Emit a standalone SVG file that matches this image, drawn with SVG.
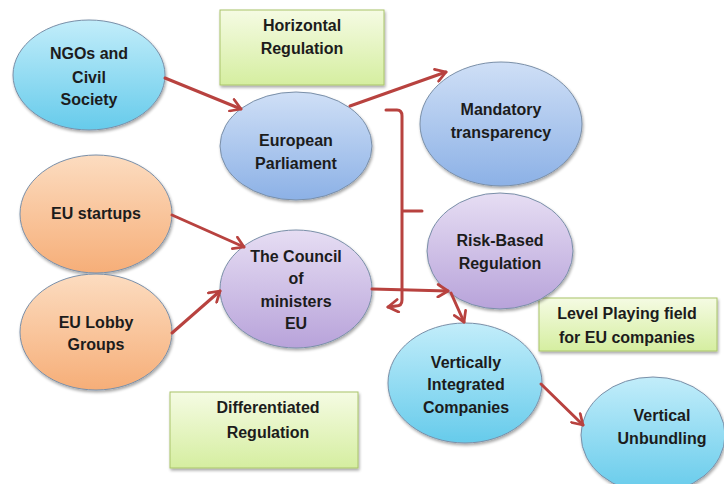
<svg xmlns="http://www.w3.org/2000/svg" width="724" height="484" viewBox="0 0 724 484">
  <defs>
    <linearGradient id="gCyan" x1="0" y1="0" x2="0" y2="1">
      <stop offset="0" stop-color="#c2edfa"/>
      <stop offset="1" stop-color="#66cbeb"/>
    </linearGradient>
    <linearGradient id="gBlue" x1="0" y1="0" x2="0" y2="1">
      <stop offset="0" stop-color="#cfdff6"/>
      <stop offset="1" stop-color="#8cb1e6"/>
    </linearGradient>
    <linearGradient id="gLav" x1="0" y1="0" x2="0" y2="1">
      <stop offset="0" stop-color="#e6ddf3"/>
      <stop offset="1" stop-color="#b8a3da"/>
    </linearGradient>
    <linearGradient id="gOrange" x1="0" y1="0" x2="0" y2="1">
      <stop offset="0" stop-color="#fcdcc0"/>
      <stop offset="1" stop-color="#f6ae78"/>
    </linearGradient>
    <linearGradient id="gGreen" x1="0" y1="0" x2="0" y2="1">
      <stop offset="0" stop-color="#f5fbe3"/>
      <stop offset="1" stop-color="#d5eea0"/>
    </linearGradient>
    <filter id="shadow" x="-10%" y="-10%" width="125%" height="130%">
      <feGaussianBlur in="SourceAlpha" stdDeviation="1.5"/>
      <feOffset dx="1" dy="2" result="b"/>
      <feComponentTransfer><feFuncA type="linear" slope="0.35"/></feComponentTransfer>
      <feMerge><feMergeNode/><feMergeNode in="SourceGraphic"/></feMerge>
    </filter>
    <marker id="arrow" viewBox="0 0 12 12" refX="10" refY="6" markerWidth="5" markerHeight="5" orient="auto" markerUnits="strokeWidth">
      <path d="M2,1 L10,6 L2,11" fill="none" stroke="#b8423f" stroke-width="2.2" stroke-linecap="round" stroke-linejoin="round"/>
    </marker>
  </defs>
  <style>
    .lbl { font-family: "Liberation Sans", Arial, sans-serif; font-weight: bold; font-size: 16px; fill: #1c1c1c; text-anchor: middle; }
    .node ellipse { stroke: #7a8fa8; stroke-width: 1; filter: url(#shadow); }
    .box rect { fill: url(#gGreen); stroke: #a9c46a; stroke-width: 1; filter: url(#shadow); }
    .conn path { fill: none; stroke: #b8423f; stroke-width: 3; stroke-linecap: round; stroke-linejoin: round; }
  </style>
  <rect width="724" height="484" fill="#ffffff"/>

  <!-- labelled boxes -->
  <g id="horizontal-regulation" class="box">
    <rect x="220" y="10" width="164" height="75"/>
    <text class="lbl" x="302" y="31">Horizontal</text>
    <text class="lbl" x="302" y="54">Regulation</text>
  </g>
  <g id="level-playing-field" class="box">
    <rect x="539" y="298" width="178" height="53"/>
    <text class="lbl" x="627" y="319">Level Playing field</text>
    <text class="lbl" x="627" y="343">for EU companies</text>
  </g>
  <g id="differentiated-regulation" class="box">
    <rect x="170" y="392" width="188" height="76"/>
    <text class="lbl" x="268" y="413">Differentiated</text>
    <text class="lbl" x="268" y="438">Regulation</text>
  </g>

  <!-- actors and outcomes -->
  <g id="ngos" class="node">
    <ellipse cx="89" cy="75" rx="76" ry="55" fill="url(#gCyan)"/>
    <text class="lbl" x="89" y="59">NGOs and</text>
    <text class="lbl" x="89" y="83">Civil</text>
    <text class="lbl" x="89" y="105">Society</text>
  </g>
  <g id="european-parliament" class="node">
    <ellipse cx="296" cy="146" rx="76" ry="54" fill="url(#gBlue)"/>
    <text class="lbl" x="296" y="146">European</text>
    <text class="lbl" x="296" y="169">Parliament</text>
  </g>
  <g id="mandatory-transparency" class="node">
    <ellipse cx="501" cy="124" rx="81" ry="62" fill="url(#gBlue)"/>
    <text class="lbl" x="501" y="115">Mandatory</text>
    <text class="lbl" x="501" y="138">transparency</text>
  </g>
  <g id="eu-startups" class="node">
    <ellipse cx="96" cy="214" rx="76" ry="59" fill="url(#gOrange)"/>
    <text class="lbl" x="96" y="219">EU startups</text>
  </g>
  <g id="eu-lobby" class="node">
    <ellipse cx="96" cy="332" rx="76" ry="58" fill="url(#gOrange)"/>
    <text class="lbl" x="96" y="328">EU Lobby</text>
    <text class="lbl" x="96" y="350">Groups</text>
  </g>
  <g id="council" class="node">
    <ellipse cx="296" cy="289" rx="76" ry="59" fill="url(#gLav)"/>
    <text class="lbl" x="296" y="262">The Council</text>
    <text class="lbl" x="296" y="284">of</text>
    <text class="lbl" x="296" y="307">ministers</text>
    <text class="lbl" x="296" y="329">EU</text>
  </g>
  <g id="risk-based" class="node">
    <ellipse cx="500" cy="251" rx="73" ry="58" fill="url(#gLav)"/>
    <text class="lbl" x="500" y="246">Risk-Based</text>
    <text class="lbl" x="500" y="269">Regulation</text>
  </g>
  <g id="vertically-integrated" class="node">
    <ellipse cx="465" cy="383" rx="77" ry="60" fill="url(#gCyan)"/>
    <text class="lbl" x="466" y="368">Vertically</text>
    <text class="lbl" x="466" y="390">Integrated</text>
    <text class="lbl" x="466" y="413">Companies</text>
  </g>
  <g id="vertical-unbundling" class="node">
    <ellipse cx="653" cy="435" rx="72" ry="58" fill="url(#gCyan)"/>
    <text class="lbl" x="662" y="421">Vertical</text>
    <text class="lbl" x="662" y="444">Unbundling</text>
  </g>

  <!-- connectors -->
  <g id="connectors" class="conn">
    <path d="M165,78 L241,109" marker-end="url(#arrow)"/>
    <path d="M350,106 L446,72" marker-end="url(#arrow)"/>
    <path d="M172,215 L244,247" marker-end="url(#arrow)"/>
    <path d="M172,333 L220,291" marker-end="url(#arrow)"/>
    <path d="M372,289 L448,291" marker-end="url(#arrow)"/>
    <path d="M451,293 L464,322" marker-end="url(#arrow)"/>
    <path d="M541,384 L583,425" marker-end="url(#arrow)"/>
    <!-- bracket grouping the regulation outcomes -->
    <path d="M386,110 L397,110 Q402,110 402,116 L402,211 L422,211 M402,211 L402,300 Q402,306 396,306 L388,307" marker-end="url(#arrow)"/>
  </g>
</svg>
